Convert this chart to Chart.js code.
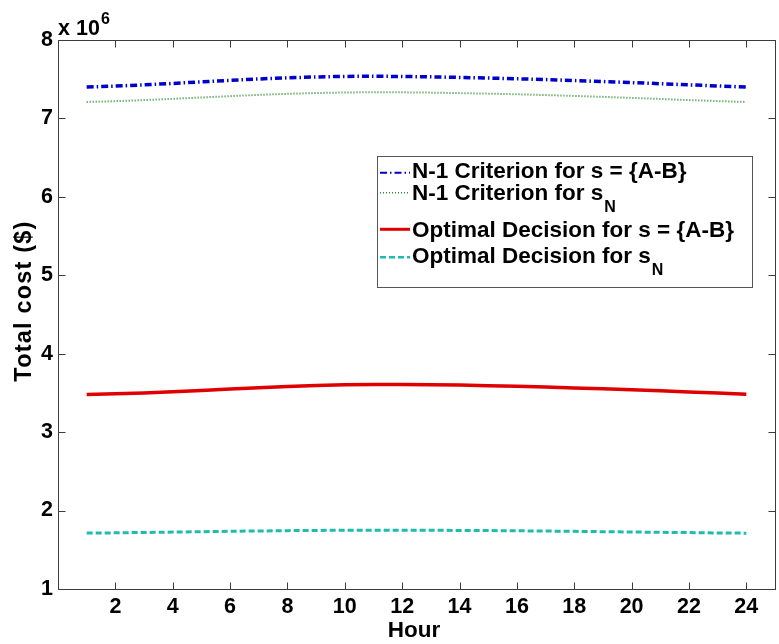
<!DOCTYPE html>
<html><head><meta charset="utf-8">
<script src="https://cdn.jsdelivr.net/npm/chart.js@4"></script>
<style>html,body{margin:0;padding:0;background:#fff}canvas{display:block}</style>
</head><body><canvas id="c" width="779" height="644"></canvas>
<script>
const hours = [1,2,3,4,5,6,7,8,9,10,11,12,13,14,15,16,17,18,19,20,21,22,23,24];
const n1CriterionAB = [7.400,7.412,7.428,7.446,7.466,7.485,7.503,7.518,7.529,7.536,7.538,7.535,7.530,7.523,7.515,7.506,7.495,7.483,7.470,7.457,7.443,7.428,7.414,7.400];
const n1CriterionSN = [7.210,7.220,7.234,7.250,7.267,7.284,7.300,7.314,7.324,7.331,7.334,7.333,7.329,7.323,7.316,7.308,7.298,7.287,7.275,7.262,7.248,7.234,7.221,7.210];
const optimalAB = [3.480,3.488,3.500,3.515,3.532,3.550,3.567,3.583,3.595,3.604,3.608,3.608,3.605,3.600,3.593,3.585,3.575,3.564,3.552,3.540,3.527,3.513,3.498,3.482];
const optimalSN = [1.713,1.716,1.721,1.726,1.731,1.736,1.740,1.744,1.747,1.749,1.750,1.750,1.749,1.747,1.745,1.742,1.739,1.735,1.731,1.727,1.723,1.719,1.715,1.712];
const xTickValues = [2,4,6,8,10,12,14,16,18,20,22,24];
const yTickValues = [1,2,3,4,5,6,7,8];
const seriesLabels = ['N-1 Criterion for s = {A-B}','N-1 Criterion for s_N','Optimal Decision for s = {A-B}','Optimal Decision for s_N'];
const xTitle = 'Hour';
const yTitle = 'Total cost ($)';
const yExponent = ['x 10','6'];

const FONT = '"Liberation Sans", Arial, Helvetica, sans-serif';
function pts(vals){ return hours.map((h,i)=>({x:h,y:vals[i]})); }

const styles = [
  {color:'#0000cc', width:3.5, dash:[7,3,1.5,3], legWidth:2},
  {color:'#2e8b2e', width:2, dash:[1,2], legWidth:1.5},
  {color:'#e00000', width:3.5, dash:[], legWidth:3},
  {color:'#1fbcae', width:3, dash:[6,3], legWidth:2.5}
];
const allSeries = [n1CriterionAB, n1CriterionSN, optimalAB, optimalSN];

const matlabPlugin = {
  id:'matlab',
  beforeDraw(chart){
    const c = chart.ctx; c.save(); c.fillStyle='#fff'; c.fillRect(0,0,chart.width,chart.height); c.restore();
  },
  afterDatasetsDraw(chart){
    const c = chart.ctx, a = chart.chartArea, xs = chart.scales.x, ys = chart.scales.y;
    c.save();
    c.strokeStyle = '#3c3c3c'; c.lineWidth = 1;
    const L = Math.round(a.left)+0.5, R = Math.round(a.right)+0.5, T = Math.round(a.top)+0.5, B = Math.round(a.bottom)+0.5;
    c.strokeRect(L, T, R-L, B-T);
    c.beginPath();
    xTickValues.forEach(v=>{ const px=Math.round(xs.getPixelForValue(v))+0.5; c.moveTo(px,B); c.lineTo(px,B-7); c.moveTo(px,T); c.lineTo(px,T+7); });
    yTickValues.forEach(v=>{ const py=Math.round(ys.getPixelForValue(v))+0.5; c.moveTo(L,py); c.lineTo(L+7,py); c.moveTo(R,py); c.lineTo(R-7,py); });
    c.stroke();
    // exponent
    c.fillStyle = '#000';
    c.textAlign='left'; c.textBaseline='alphabetic';
    c.font = 'bold 21.5px '+FONT; c.fillText(yExponent[0], 58, 35);
    c.font = 'bold 16px '+FONT; c.fillText(yExponent[1], 101, 24);
    // axis titles
    c.font = 'bold 22.5px '+FONT; c.textAlign='center';
    c.fillText(xTitle, 414, 637);
    c.save(); c.translate(31, 301); c.rotate(-Math.PI/2);
    c.font = 'bold 23.5px '+FONT;
    try { c.letterSpacing = '1.2px'; } catch(e) {}
    c.fillText(yTitle, 0, 0);
    try { c.letterSpacing = '0px'; } catch(e) {}
    c.restore();
    // legend
    c.fillStyle='#fff'; c.fillRect(377.5,156.5,375,131);
    c.strokeStyle='#555'; c.lineWidth=1; c.strokeRect(377.5,156.5,375,131);
    const rows = [{ly:172.7, by:178.3},{ly:192.7, by:200},{ly:229.3, by:236.7},{ly:257.3, by:263}];
    chart.data.datasets.forEach((ds,i)=>{
      const st = styles[i], r = rows[i];
      c.save(); c.strokeStyle=st.color; c.lineWidth=st.legWidth; c.setLineDash(st.dash);
      c.beginPath(); c.moveTo(380, r.ly); c.lineTo(410, r.ly); c.stroke(); c.restore();
      const parts = ds.label.split('_');
      c.fillStyle='#000'; c.textAlign='left';
      c.font='bold 22.5px '+FONT; c.fillText(parts[0], 412, r.by);
      if (parts[1]) { const w=c.measureText(parts[0]).width; c.font='bold 16px '+FONT; c.fillText(parts[1], 412+w+1, r.by+12); }
    });
    c.restore();
  }
};

new Chart(document.getElementById('c'), {
  type:'line',
  data:{ datasets: allSeries.map((vals,i)=>({
    label: seriesLabels[i], data: pts(vals), borderColor: styles[i].color, borderWidth: styles[i].width,
    borderDash: styles[i].dash, pointRadius:0, tension:0, fill:false
  })) },
  options:{
    responsive:false, animation:false, devicePixelRatio:1,
    layout:{padding:{top:40,right:4,left:0,bottom:0}},
    plugins:{legend:{display:false}, tooltip:{enabled:false}},
    scales:{
      x:{ type:'linear', min:0, max:25,
        grid:{display:false, drawTicks:false}, border:{display:false},
        ticks:{ color:'#000', font:{family:FONT, size:21.5, weight:'bold'}, padding:5, maxRotation:0, autoSkip:false, callback:v=>String(v)},
        afterBuildTicks:s=>{ s.ticks = xTickValues.map(v=>({value:v})); },
        afterFit:s=>{ s.height = 55; } },
      y:{ type:'linear', min:1, max:8,
        grid:{display:false, drawTicks:false}, border:{display:false},
        ticks:{ color:'#000', font:{family:FONT, size:21.5, weight:'bold'}, padding:5, autoSkip:false, callback:v=>String(v)},
        afterBuildTicks:s=>{ s.ticks = yTickValues.map(v=>({value:v})); },
        afterFit:s=>{ s.width = 58; } }
    }
  },
  plugins:[matlabPlugin]
});
</script></body></html>
